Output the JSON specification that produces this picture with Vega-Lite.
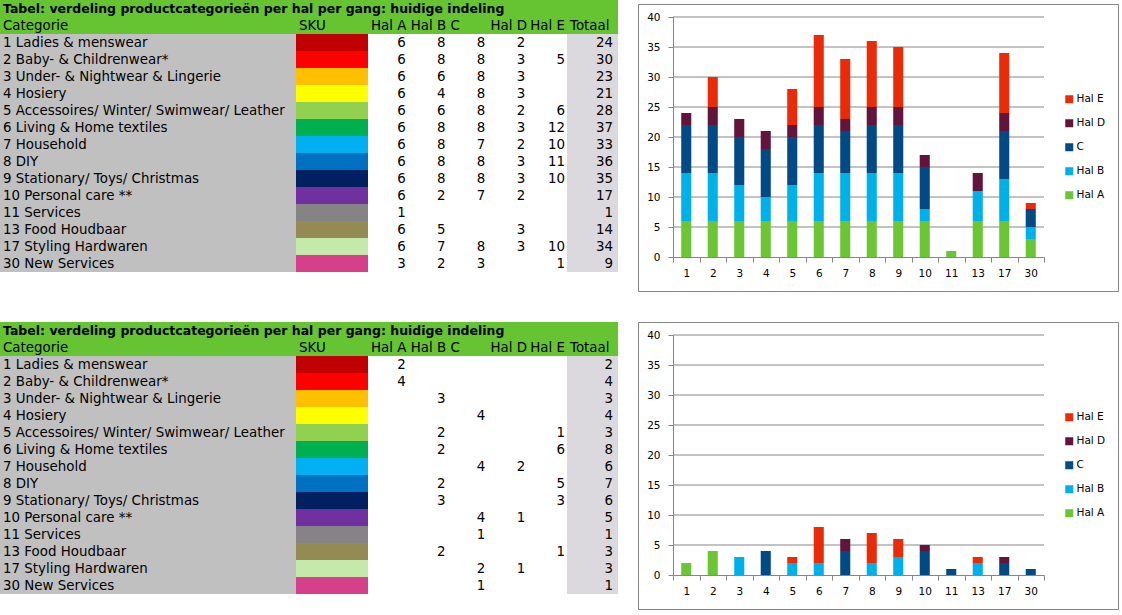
{
  "$schema": "https://vega.github.io/schema/vega-lite/v6.json",
  "padding": 0,
  "background": "white",
  "datasets": {
    "t1": [
      {"cat": "1 Ladies & menswear", "Hal A": 6, "Hal B": 8, "C": 8, "Hal D": 2, "Hal E": null, "Totaal": 24},
      {"cat": "2 Baby- & Childrenwear*", "Hal A": 6, "Hal B": 8, "C": 8, "Hal D": 3, "Hal E": 5, "Totaal": 30},
      {"cat": "3 Under- & Nightwear & Lingerie", "Hal A": 6, "Hal B": 6, "C": 8, "Hal D": 3, "Hal E": null, "Totaal": 23},
      {"cat": "4 Hosiery", "Hal A": 6, "Hal B": 4, "C": 8, "Hal D": 3, "Hal E": null, "Totaal": 21},
      {"cat": "5 Accessoires/ Winter/ Swimwear/ Leather", "Hal A": 6, "Hal B": 6, "C": 8, "Hal D": 2, "Hal E": 6, "Totaal": 28},
      {"cat": "6 Living & Home textiles", "Hal A": 6, "Hal B": 8, "C": 8, "Hal D": 3, "Hal E": 12, "Totaal": 37},
      {"cat": "7 Household", "Hal A": 6, "Hal B": 8, "C": 7, "Hal D": 2, "Hal E": 10, "Totaal": 33},
      {"cat": "8 DIY", "Hal A": 6, "Hal B": 8, "C": 8, "Hal D": 3, "Hal E": 11, "Totaal": 36},
      {"cat": "9 Stationary/ Toys/ Christmas", "Hal A": 6, "Hal B": 8, "C": 8, "Hal D": 3, "Hal E": 10, "Totaal": 35},
      {"cat": "10 Personal care **", "Hal A": 6, "Hal B": 2, "C": 7, "Hal D": 2, "Hal E": null, "Totaal": 17},
      {"cat": "11 Services", "Hal A": 1, "Hal B": null, "C": null, "Hal D": null, "Hal E": null, "Totaal": 1},
      {"cat": "13 Food Houdbaar", "Hal A": 6, "Hal B": 5, "C": null, "Hal D": 3, "Hal E": null, "Totaal": 14},
      {"cat": "17 Styling Hardwaren", "Hal A": 6, "Hal B": 7, "C": 8, "Hal D": 3, "Hal E": 10, "Totaal": 34},
      {"cat": "30 New Services", "Hal A": 3, "Hal B": 2, "C": 3, "Hal D": null, "Hal E": 1, "Totaal": 9}
    ],
    "t2": [
      {"cat": "1 Ladies & menswear", "Hal A": 2, "Hal B": null, "C": null, "Hal D": null, "Hal E": null, "Totaal": 2},
      {"cat": "2 Baby- & Childrenwear*", "Hal A": 4, "Hal B": null, "C": null, "Hal D": null, "Hal E": null, "Totaal": 4},
      {"cat": "3 Under- & Nightwear & Lingerie", "Hal A": null, "Hal B": 3, "C": null, "Hal D": null, "Hal E": null, "Totaal": 3},
      {"cat": "4 Hosiery", "Hal A": null, "Hal B": null, "C": 4, "Hal D": null, "Hal E": null, "Totaal": 4},
      {"cat": "5 Accessoires/ Winter/ Swimwear/ Leather", "Hal A": null, "Hal B": 2, "C": null, "Hal D": null, "Hal E": 1, "Totaal": 3},
      {"cat": "6 Living & Home textiles", "Hal A": null, "Hal B": 2, "C": null, "Hal D": null, "Hal E": 6, "Totaal": 8},
      {"cat": "7 Household", "Hal A": null, "Hal B": null, "C": 4, "Hal D": 2, "Hal E": null, "Totaal": 6},
      {"cat": "8 DIY", "Hal A": null, "Hal B": 2, "C": null, "Hal D": null, "Hal E": 5, "Totaal": 7},
      {"cat": "9 Stationary/ Toys/ Christmas", "Hal A": null, "Hal B": 3, "C": null, "Hal D": null, "Hal E": 3, "Totaal": 6},
      {"cat": "10 Personal care **", "Hal A": null, "Hal B": null, "C": 4, "Hal D": 1, "Hal E": null, "Totaal": 5},
      {"cat": "11 Services", "Hal A": null, "Hal B": null, "C": 1, "Hal D": null, "Hal E": null, "Totaal": 1},
      {"cat": "13 Food Houdbaar", "Hal A": null, "Hal B": 2, "C": null, "Hal D": null, "Hal E": 1, "Totaal": 3},
      {"cat": "17 Styling Hardwaren", "Hal A": null, "Hal B": null, "C": 2, "Hal D": 1, "Hal E": null, "Totaal": 3},
      {"cat": "30 New Services", "Hal A": null, "Hal B": null, "C": 1, "Hal D": null, "Hal E": null, "Totaal": 1}
    ],
    "grid": [{"v": 5}, {"v": 10}, {"v": 15}, {"v": 20}, {"v": 25}, {"v": 30}, {"v": 35}, {"v": 40}]
  },
  "config": {
    "view": {"stroke": null},
    "font": "DejaVu Sans",
    "text": {"font": "DejaVu Sans", "fontSize": 13.4, "color": "#000000", "baseline": "middle"},
    "axis": {"labelFont": "DejaVu Sans", "labelFontSize": 10.5, "labelColor": "#000000", "domainColor": "#868686", "tickColor": "#868686", "gridColor": "#868686", "title": null},
    "legend": {"labelFont": "DejaVu Sans", "labelFontSize": 10.5, "labelColor": "#000000"}
  },
  "resolve": {"scale": {"color": "independent", "fill": "independent"}, "legend": {"color": "independent"}},
  "spacing": 29,
  "vconcat": [
    {
      "spacing": 19,
      "resolve": {"scale": {"color": "independent", "fill": "independent"}, "legend": {"color": "independent"}},
      "hconcat": [
        {
          "spacing": 0,
          "vconcat": [
            {
              "width": 618, "height": 17,
              "view": {"fill": "#66C433", "stroke": null},
              "data": {"values": [{"t": "Tabel: verdeling productcategorieën per hal per gang: huidige indeling"}]},
              "mark": {"type": "text", "align": "left", "dx": 3, "fontSize": 12.5, "fontWeight": "bold"},
              "encoding": {
                "x": {"datum": "t", "type": "nominal", "scale": {"type": "band", "paddingInner": 0, "paddingOuter": 0}, "bandPosition": 0, "axis": null},
                "text": {"field": "t"}
              }
            },
            {
              "spacing": 0,
              "hconcat": [
                {
                  "width": 296, "height": 255,
                  "view": {"fill": "#C0C0C0", "stroke": null},
                  "encoding": {"y": {"field": "cat", "type": "nominal", "scale": {"domain": ["header", "1 Ladies & menswear", "2 Baby- & Childrenwear*", "3 Under- & Nightwear & Lingerie", "4 Hosiery", "5 Accessoires/ Winter/ Swimwear/ Leather", "6 Living & Home textiles", "7 Household", "8 DIY", "9 Stationary/ Toys/ Christmas", "10 Personal care **", "11 Services", "13 Food Houdbaar", "17 Styling Hardwaren", "30 New Services"], "paddingInner": 0, "paddingOuter": 0}, "axis": null}},
                  "layer": [
                    {"data": {"values": [{"cat": "header", "t": "Categorie"}]}, "mark": {"type": "rect", "color": "#66C433"}},
                    {"data": {"values": [{"cat": "header", "t": "Categorie"}]}, "mark": {"type": "text", "align": "left", "dx": 3},
                     "encoding": {"x": {"datum": "Categorie", "type": "nominal", "scale": {"type": "band", "paddingInner": 0, "paddingOuter": 0}, "bandPosition": 0, "axis": null}, "text": {"field": "t"}}},
                    {"data": {"name": "t1"}, "mark": {"type": "text", "align": "left", "dx": 3},
                     "encoding": {"x": {"datum": "Categorie", "type": "nominal", "scale": {"type": "band", "paddingInner": 0, "paddingOuter": 0}, "bandPosition": 0, "axis": null}, "text": {"field": "cat"}}}
                  ]
                },
                {
                  "width": 72, "height": 255,
                  "view": {"stroke": null},
                  "encoding": {"y": {"field": "cat", "type": "nominal", "scale": {"domain": ["header", "1 Ladies & menswear", "2 Baby- & Childrenwear*", "3 Under- & Nightwear & Lingerie", "4 Hosiery", "5 Accessoires/ Winter/ Swimwear/ Leather", "6 Living & Home textiles", "7 Household", "8 DIY", "9 Stationary/ Toys/ Christmas", "10 Personal care **", "11 Services", "13 Food Houdbaar", "17 Styling Hardwaren", "30 New Services"], "paddingInner": 0, "paddingOuter": 0}, "axis": null}},
                  "layer": [
                    {"data": {"name": "t1"}, "mark": {"type": "rect"},
                     "encoding": {"fill": {"field": "cat", "type": "nominal", "legend": null, "scale": {"domain": ["1 Ladies & menswear", "2 Baby- & Childrenwear*", "3 Under- & Nightwear & Lingerie", "4 Hosiery", "5 Accessoires/ Winter/ Swimwear/ Leather", "6 Living & Home textiles", "7 Household", "8 DIY", "9 Stationary/ Toys/ Christmas", "10 Personal care **", "11 Services", "13 Food Houdbaar", "17 Styling Hardwaren", "30 New Services"], "range": ["#C00000", "#FF0000", "#FFC000", "#FFFF00", "#92D050", "#00B050", "#00B0F0", "#0070C0", "#002060", "#7030A0", "#858385", "#948A54", "#C5E9AB", "#D6408A"]}}}},
                    {"data": {"values": [{"cat": "header", "t": "SKU"}]}, "mark": {"type": "rect", "color": "#66C433"}},
                    {"data": {"values": [{"cat": "header", "t": "SKU"}]}, "mark": {"type": "text", "align": "left", "dx": 3},
                     "encoding": {"x": {"datum": "SKU", "type": "nominal", "scale": {"type": "band", "paddingInner": 0, "paddingOuter": 0}, "bandPosition": 0, "axis": null}, "text": {"field": "t"}}}
                  ]
                },
                {
                  "width": 199, "height": 255,
                  "view": {"stroke": null},
                  "encoding": {"y": {"field": "cat", "type": "nominal", "scale": {"domain": ["header", "1 Ladies & menswear", "2 Baby- & Childrenwear*", "3 Under- & Nightwear & Lingerie", "4 Hosiery", "5 Accessoires/ Winter/ Swimwear/ Leather", "6 Living & Home textiles", "7 Household", "8 DIY", "9 Stationary/ Toys/ Christmas", "10 Personal care **", "11 Services", "13 Food Houdbaar", "17 Styling Hardwaren", "30 New Services"], "paddingInner": 0, "paddingOuter": 0}, "axis": null}},
                  "layer": [
                    {"data": {"values": [{"cat": "header"}]}, "mark": {"type": "rect", "color": "#66C433"}},
                    {"data": {"values": [{"cat": "header", "key": "Hal A"}, {"cat": "header", "key": "Hal B"}, {"cat": "header", "key": "C"}, {"cat": "header", "key": "Hal D"}, {"cat": "header", "key": "Hal E"}]},
                     "mark": {"type": "text", "align": "left", "dx": 3},
                     "encoding": {"x": {"field": "key", "type": "nominal", "scale": {"type": "band", "domain": ["Hal A", "Hal B", "C", "Hal D", "Hal E"], "paddingInner": 0, "paddingOuter": 0}, "bandPosition": 0, "axis": null}, "text": {"field": "key"}}},
                    {"data": {"name": "t1"},
                     "transform": [{"fold": ["Hal A", "Hal B", "C", "Hal D", "Hal E"], "as": ["key", "value"]}, {"filter": {"field": "value", "valid": true}}],
                     "mark": {"type": "text", "align": "right", "dx": -2},
                     "encoding": {"x": {"field": "key", "type": "nominal", "scale": {"type": "band", "domain": ["Hal A", "Hal B", "C", "Hal D", "Hal E"], "paddingInner": 0, "paddingOuter": 0}, "bandPosition": 1, "axis": null}, "text": {"field": "value", "type": "quantitative"}}}
                  ]
                },
                {
                  "width": 51, "height": 255,
                  "view": {"fill": "#DCD9DE", "stroke": null},
                  "encoding": {"y": {"field": "cat", "type": "nominal", "scale": {"domain": ["header", "1 Ladies & menswear", "2 Baby- & Childrenwear*", "3 Under- & Nightwear & Lingerie", "4 Hosiery", "5 Accessoires/ Winter/ Swimwear/ Leather", "6 Living & Home textiles", "7 Household", "8 DIY", "9 Stationary/ Toys/ Christmas", "10 Personal care **", "11 Services", "13 Food Houdbaar", "17 Styling Hardwaren", "30 New Services"], "paddingInner": 0, "paddingOuter": 0}, "axis": null}},
                  "layer": [
                    {"data": {"values": [{"cat": "header", "t": "Totaal"}]}, "mark": {"type": "rect", "color": "#66C433"}},
                    {"data": {"values": [{"cat": "header", "t": "Totaal"}]}, "mark": {"type": "text", "align": "left", "dx": 3},
                     "encoding": {"x": {"datum": "Totaal", "type": "nominal", "scale": {"type": "band", "paddingInner": 0, "paddingOuter": 0}, "bandPosition": 0, "axis": null}, "text": {"field": "t"}}},
                    {"data": {"name": "t1"}, "mark": {"type": "text", "align": "right", "dx": -5},
                     "encoding": {"x": {"datum": "Totaal", "type": "nominal", "scale": {"type": "band", "paddingInner": 0, "paddingOuter": 0}, "bandPosition": 1, "axis": null}, "text": {"field": "Totaal", "type": "quantitative"}}}
                  ]
                }
              ]
            }
          ]
        },
        {
          "spacing": 0,
          "resolve": {"scale": {"color": "independent"}, "legend": {"color": "independent"}},
          "vconcat": [
            {"width": 480, "height": 3, "view": {"stroke": null}, "data": {"values": []}, "mark": "rect", "encoding": {}},
            {
              "width": 480, "height": 287,
              "view": {"stroke": "#868686", "strokeWidth": 1, "fill": "white"},
              "resolve": {"scale": {"x": "independent"}},
              "layer": [
                {
                  "data": {"name": "grid"},
                  "mark": {"type": "rule", "color": "#868686", "strokeWidth": 1},
                  "encoding": {
                    "y": {"field": "v", "type": "quantitative", "scale": {"domain": [0, 40], "range": [253, 13], "nice": false},
                          "axis": {"orient": "left", "offset": -35, "values": [0, 5, 10, 15, 20, 25, 30, 35, 40], "grid": false, "tickSize": 5, "labelPadding": 8}},
                    "x": {"datum": 0, "type": "quantitative", "scale": {"domain": [0, 1], "range": [35, 406]}, "axis": null},
                    "x2": {"datum": 1}
                  }
                },
                {
                  "data": {"name": "t1"},
                  "transform": [
                    {"fold": ["Hal A", "Hal B", "C", "Hal D", "Hal E"], "as": ["hal", "value"]},
                    {"filter": {"field": "value", "valid": true}},
                    {"calculate": "split(datum.cat, ' ')[0]", "as": "nr"},
                    {"calculate": "indexof(['Hal A','Hal B','C','Hal D','Hal E'], datum.hal)", "as": "ord"}
                  ],
                  "mark": {"type": "bar", "width": {"band": 0.38}},
                  "encoding": {
                    "x": {"field": "nr", "type": "nominal", "scale": {"type": "band", "domain": ["1", "2", "3", "4", "5", "6", "7", "8", "9", "10", "11", "13", "17", "30"], "range": [35, 406], "paddingInner": 0, "paddingOuter": 0},
                          "axis": {"orient": "bottom", "offset": -34, "labelAngle": 0, "tickBand": "extent", "tickSize": 5, "labelPadding": 6, "grid": false}},
                    "y": {"field": "value", "type": "quantitative", "stack": "zero", "scale": {"domain": [0, 40], "range": [253, 13], "nice": false},
                          "axis": {"orient": "left", "offset": -35, "values": [0, 5, 10, 15, 20, 25, 30, 35, 40], "grid": false, "tickSize": 5, "labelPadding": 8}},
                    "color": {"field": "hal", "type": "nominal", "scale": {"domain": ["Hal E", "Hal D", "C", "Hal B", "Hal A"], "range": ["#EA2B0A", "#62143A", "#024A83", "#00B0E8", "#6BC534"]},
                              "legend": {"orient": "none", "legendX": 426, "legendY": 90, "title": null, "padding": 0, "symbolType": "square", "symbolSize": 64, "symbolStrokeWidth": 0, "rowPadding": 13, "labelOffset": 2}},
                    "order": {"field": "ord", "type": "quantitative"}
                  }
                }
              ]
            }
          ]
        }
      ]
    },
    {
      "spacing": 19,
      "resolve": {"scale": {"color": "independent", "fill": "independent"}, "legend": {"color": "independent"}},
      "hconcat": [
        {
          "spacing": 0,
          "vconcat": [
            {
              "width": 618, "height": 17,
              "view": {"fill": "#66C433", "stroke": null},
              "data": {"values": [{"t": "Tabel: verdeling productcategorieën per hal per gang: huidige indeling"}]},
              "mark": {"type": "text", "align": "left", "dx": 3, "fontSize": 12.5, "fontWeight": "bold"},
              "encoding": {
                "x": {"datum": "t", "type": "nominal", "scale": {"type": "band", "paddingInner": 0, "paddingOuter": 0}, "bandPosition": 0, "axis": null},
                "text": {"field": "t"}
              }
            },
            {
              "spacing": 0,
              "hconcat": [
                {
                  "width": 296, "height": 255,
                  "view": {"fill": "#C0C0C0", "stroke": null},
                  "encoding": {"y": {"field": "cat", "type": "nominal", "scale": {"domain": ["header", "1 Ladies & menswear", "2 Baby- & Childrenwear*", "3 Under- & Nightwear & Lingerie", "4 Hosiery", "5 Accessoires/ Winter/ Swimwear/ Leather", "6 Living & Home textiles", "7 Household", "8 DIY", "9 Stationary/ Toys/ Christmas", "10 Personal care **", "11 Services", "13 Food Houdbaar", "17 Styling Hardwaren", "30 New Services"], "paddingInner": 0, "paddingOuter": 0}, "axis": null}},
                  "layer": [
                    {"data": {"values": [{"cat": "header", "t": "Categorie"}]}, "mark": {"type": "rect", "color": "#66C433"}},
                    {"data": {"values": [{"cat": "header", "t": "Categorie"}]}, "mark": {"type": "text", "align": "left", "dx": 3},
                     "encoding": {"x": {"datum": "Categorie", "type": "nominal", "scale": {"type": "band", "paddingInner": 0, "paddingOuter": 0}, "bandPosition": 0, "axis": null}, "text": {"field": "t"}}},
                    {"data": {"name": "t2"}, "mark": {"type": "text", "align": "left", "dx": 3},
                     "encoding": {"x": {"datum": "Categorie", "type": "nominal", "scale": {"type": "band", "paddingInner": 0, "paddingOuter": 0}, "bandPosition": 0, "axis": null}, "text": {"field": "cat"}}}
                  ]
                },
                {
                  "width": 72, "height": 255,
                  "view": {"stroke": null},
                  "encoding": {"y": {"field": "cat", "type": "nominal", "scale": {"domain": ["header", "1 Ladies & menswear", "2 Baby- & Childrenwear*", "3 Under- & Nightwear & Lingerie", "4 Hosiery", "5 Accessoires/ Winter/ Swimwear/ Leather", "6 Living & Home textiles", "7 Household", "8 DIY", "9 Stationary/ Toys/ Christmas", "10 Personal care **", "11 Services", "13 Food Houdbaar", "17 Styling Hardwaren", "30 New Services"], "paddingInner": 0, "paddingOuter": 0}, "axis": null}},
                  "layer": [
                    {"data": {"name": "t2"}, "mark": {"type": "rect"},
                     "encoding": {"fill": {"field": "cat", "type": "nominal", "legend": null, "scale": {"domain": ["1 Ladies & menswear", "2 Baby- & Childrenwear*", "3 Under- & Nightwear & Lingerie", "4 Hosiery", "5 Accessoires/ Winter/ Swimwear/ Leather", "6 Living & Home textiles", "7 Household", "8 DIY", "9 Stationary/ Toys/ Christmas", "10 Personal care **", "11 Services", "13 Food Houdbaar", "17 Styling Hardwaren", "30 New Services"], "range": ["#C00000", "#FF0000", "#FFC000", "#FFFF00", "#92D050", "#00B050", "#00B0F0", "#0070C0", "#002060", "#7030A0", "#858385", "#948A54", "#C5E9AB", "#D6408A"]}}}},
                    {"data": {"values": [{"cat": "header", "t": "SKU"}]}, "mark": {"type": "rect", "color": "#66C433"}},
                    {"data": {"values": [{"cat": "header", "t": "SKU"}]}, "mark": {"type": "text", "align": "left", "dx": 3},
                     "encoding": {"x": {"datum": "SKU", "type": "nominal", "scale": {"type": "band", "paddingInner": 0, "paddingOuter": 0}, "bandPosition": 0, "axis": null}, "text": {"field": "t"}}}
                  ]
                },
                {
                  "width": 199, "height": 255,
                  "view": {"stroke": null},
                  "encoding": {"y": {"field": "cat", "type": "nominal", "scale": {"domain": ["header", "1 Ladies & menswear", "2 Baby- & Childrenwear*", "3 Under- & Nightwear & Lingerie", "4 Hosiery", "5 Accessoires/ Winter/ Swimwear/ Leather", "6 Living & Home textiles", "7 Household", "8 DIY", "9 Stationary/ Toys/ Christmas", "10 Personal care **", "11 Services", "13 Food Houdbaar", "17 Styling Hardwaren", "30 New Services"], "paddingInner": 0, "paddingOuter": 0}, "axis": null}},
                  "layer": [
                    {"data": {"values": [{"cat": "header"}]}, "mark": {"type": "rect", "color": "#66C433"}},
                    {"data": {"values": [{"cat": "header", "key": "Hal A"}, {"cat": "header", "key": "Hal B"}, {"cat": "header", "key": "C"}, {"cat": "header", "key": "Hal D"}, {"cat": "header", "key": "Hal E"}]},
                     "mark": {"type": "text", "align": "left", "dx": 3},
                     "encoding": {"x": {"field": "key", "type": "nominal", "scale": {"type": "band", "domain": ["Hal A", "Hal B", "C", "Hal D", "Hal E"], "paddingInner": 0, "paddingOuter": 0}, "bandPosition": 0, "axis": null}, "text": {"field": "key"}}},
                    {"data": {"name": "t2"},
                     "transform": [{"fold": ["Hal A", "Hal B", "C", "Hal D", "Hal E"], "as": ["key", "value"]}, {"filter": {"field": "value", "valid": true}}],
                     "mark": {"type": "text", "align": "right", "dx": -2},
                     "encoding": {"x": {"field": "key", "type": "nominal", "scale": {"type": "band", "domain": ["Hal A", "Hal B", "C", "Hal D", "Hal E"], "paddingInner": 0, "paddingOuter": 0}, "bandPosition": 1, "axis": null}, "text": {"field": "value", "type": "quantitative"}}}
                  ]
                },
                {
                  "width": 51, "height": 255,
                  "view": {"fill": "#DCD9DE", "stroke": null},
                  "encoding": {"y": {"field": "cat", "type": "nominal", "scale": {"domain": ["header", "1 Ladies & menswear", "2 Baby- & Childrenwear*", "3 Under- & Nightwear & Lingerie", "4 Hosiery", "5 Accessoires/ Winter/ Swimwear/ Leather", "6 Living & Home textiles", "7 Household", "8 DIY", "9 Stationary/ Toys/ Christmas", "10 Personal care **", "11 Services", "13 Food Houdbaar", "17 Styling Hardwaren", "30 New Services"], "paddingInner": 0, "paddingOuter": 0}, "axis": null}},
                  "layer": [
                    {"data": {"values": [{"cat": "header", "t": "Totaal"}]}, "mark": {"type": "rect", "color": "#66C433"}},
                    {"data": {"values": [{"cat": "header", "t": "Totaal"}]}, "mark": {"type": "text", "align": "left", "dx": 3},
                     "encoding": {"x": {"datum": "Totaal", "type": "nominal", "scale": {"type": "band", "paddingInner": 0, "paddingOuter": 0}, "bandPosition": 0, "axis": null}, "text": {"field": "t"}}},
                    {"data": {"name": "t2"}, "mark": {"type": "text", "align": "right", "dx": -5},
                     "encoding": {"x": {"datum": "Totaal", "type": "nominal", "scale": {"type": "band", "paddingInner": 0, "paddingOuter": 0}, "bandPosition": 1, "axis": null}, "text": {"field": "Totaal", "type": "quantitative"}}}
                  ]
                }
              ]
            }
          ]
        },
        {
          "width": 480, "height": 287,
          "view": {"stroke": "#868686", "strokeWidth": 1, "fill": "white"},
          "resolve": {"scale": {"x": "independent"}},
          "layer": [
            {
              "data": {"name": "grid"},
              "mark": {"type": "rule", "color": "#868686", "strokeWidth": 1},
              "encoding": {
                "y": {"field": "v", "type": "quantitative", "scale": {"domain": [0, 40], "range": [253, 13], "nice": false},
                      "axis": {"orient": "left", "offset": -35, "values": [0, 5, 10, 15, 20, 25, 30, 35, 40], "grid": false, "tickSize": 5, "labelPadding": 8}},
                "x": {"datum": 0, "type": "quantitative", "scale": {"domain": [0, 1], "range": [35, 406]}, "axis": null},
                "x2": {"datum": 1}
              }
            },
            {
              "data": {"name": "t2"},
              "transform": [
                {"fold": ["Hal A", "Hal B", "C", "Hal D", "Hal E"], "as": ["hal", "value"]},
                {"filter": {"field": "value", "valid": true}},
                {"calculate": "split(datum.cat, ' ')[0]", "as": "nr"},
                {"calculate": "indexof(['Hal A','Hal B','C','Hal D','Hal E'], datum.hal)", "as": "ord"}
              ],
              "mark": {"type": "bar", "width": {"band": 0.38}},
              "encoding": {
                "x": {"field": "nr", "type": "nominal", "scale": {"type": "band", "domain": ["1", "2", "3", "4", "5", "6", "7", "8", "9", "10", "11", "13", "17", "30"], "range": [35, 406], "paddingInner": 0, "paddingOuter": 0},
                      "axis": {"orient": "bottom", "offset": -34, "labelAngle": 0, "tickBand": "extent", "tickSize": 5, "labelPadding": 6, "grid": false}},
                "y": {"field": "value", "type": "quantitative", "stack": "zero", "scale": {"domain": [0, 40], "range": [253, 13], "nice": false},
                      "axis": {"orient": "left", "offset": -35, "values": [0, 5, 10, 15, 20, 25, 30, 35, 40], "grid": false, "tickSize": 5, "labelPadding": 8}},
                "color": {"field": "hal", "type": "nominal", "scale": {"domain": ["Hal E", "Hal D", "C", "Hal B", "Hal A"], "range": ["#EA2B0A", "#62143A", "#024A83", "#00B0E8", "#6BC534"]},
                          "legend": {"orient": "none", "legendX": 426, "legendY": 90, "title": null, "padding": 0, "symbolType": "square", "symbolSize": 64, "symbolStrokeWidth": 0, "rowPadding": 13, "labelOffset": 2}},
                "order": {"field": "ord", "type": "quantitative"}
              }
            }
          ]
        }
      ]
    }
  ]
}
